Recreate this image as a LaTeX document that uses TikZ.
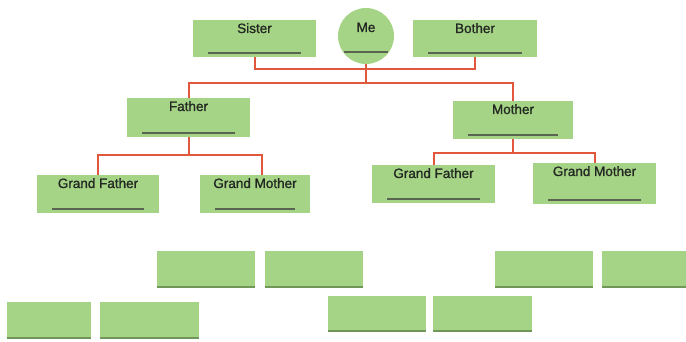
\documentclass[tikz,border=0pt]{standalone}
\usepackage{fontspec}
\setmainfont{Liberation Sans}
\newfontface\heavyface{Liberation Sans}[FakeBold=1.2]
\definecolor{boxgreen}{RGB}{166,212,134}
\definecolor{stripgreen}{RGB}{112,150,88}
\definecolor{ulgray}{RGB}{90,100,80}
\definecolor{conred}{RGB}{226,88,60}
\definecolor{textgray}{RGB}{35,40,35}
\tikzset{
  famBox/.style={fill=boxgreen, inner xsep=0pt, inner ysep=0pt, text height=13pt,
    font=\heavyface\fontsize{13.5}{14}\selectfont, text=textgray,
    path picture={\draw[ulgray, line width=1.1pt]
      ([xshift=15pt,yshift=4pt]path picture bounding box.south west) --
      ([xshift=-15pt,yshift=4pt]path picture bounding box.south east);}},
  meCircle/.style={circle, fill=boxgreen, inner sep=0pt, minimum size=56pt,
    text height=10pt, text depth=18pt,
    font=\heavyface\fontsize{13.5}{14}\selectfont, text=textgray,
    path picture={\draw[ulgray, line width=1.1pt]
      ([xshift=-22pt,yshift=-16pt]path picture bounding box.center) --
      ([xshift=22pt,yshift=-16pt]path picture bounding box.center);}},
  blankBox/.style={fill=boxgreen, inner sep=0pt, minimum height=37pt,
    path picture={\draw[stripgreen, line width=2pt]
      ([yshift=1pt]path picture bounding box.south west) --
      ([yshift=1pt]path picture bounding box.south east);}},
  conn/.style={conred, line width=2pt},
}
\begin{document}
\begin{tikzpicture}[x=1pt,y=-1pt]
\useasboundingbox (0,0) rectangle (686,342);
% top row
\node[famBox, minimum width=123pt, text depth=24pt] (sister) at (254.5,38.5) {Sister};
\node[meCircle] (me) at (366,36) {Me};
\node[famBox, minimum width=124pt, text depth=24pt] (bother) at (475,38.5) {Bother};
% parents
\node[famBox, minimum width=123pt, text depth=26pt] (father) at (188.5,117.5) {Father};
\node[famBox, minimum width=120pt, text depth=25pt] (mother) at (513,120) {Mother};
% grandparents
\node[famBox, minimum width=122pt, text depth=25pt] (gf1) at (98,194) {Grand Father};
\node[famBox, minimum width=110pt, text depth=25pt] (gm1) at (255,194) {Grand Mother};
\node[famBox, minimum width=123pt, text depth=25pt] (gf2) at (433.5,184) {Grand Father};
\node[famBox, minimum width=123pt, text depth=28pt] (gm2) at (594.5,183.5) {Grand Mother};
% blank boxes
\node[blankBox, minimum width=98pt] (ba) at (206,269.5) {};
\node[blankBox, minimum width=98pt] (bb) at (314,269.5) {};
\node[blankBox, minimum width=84pt] (bc) at (49,320.5) {};
\node[blankBox, minimum width=99pt] (bd) at (149.5,320.5) {};
\node[blankBox, minimum width=98pt, minimum height=36pt] (be) at (377,314) {};
\node[blankBox, minimum width=99pt, minimum height=36pt] (bf) at (482.5,314) {};
\node[blankBox, minimum width=98pt] (bg) at (544,269.5) {};
\node[blankBox, minimum width=84pt] (bh) at (644,269.5) {};
% connectors
\draw[conn] (sister.south) -- ++(0,12) -| (bother.south);
\draw[conn] (me.south) -- ++(0,19) coordinate (j1);
\draw[conn] (father.north) |- (j1) -| (mother.north);
\draw[conn] (father.south) -- ++(0,18) coordinate (j2);
\draw[conn] (gf1.north) |- (j2) -| ([xshift=7pt]gm1.north);
\draw[conn] (mother.south) -- ++(0,14) coordinate (j3);
\draw[conn] (gf2.north) |- (j3) -| (gm2.north);
\end{tikzpicture}
\end{document}
